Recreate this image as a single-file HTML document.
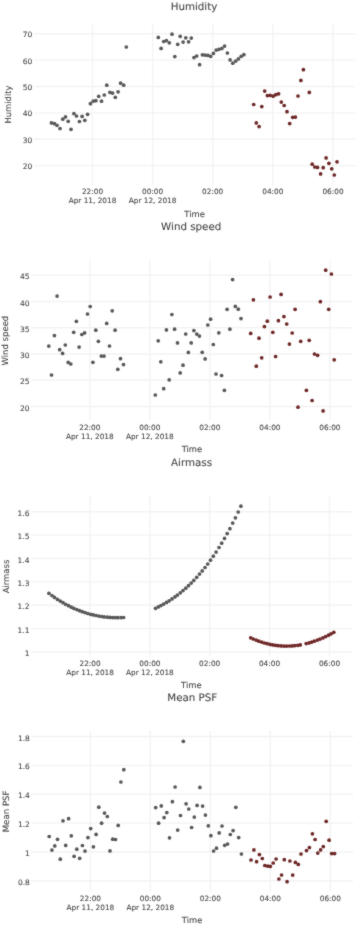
<!DOCTYPE html><html><head><meta charset="utf-8"><style>html,body{margin:0;padding:0;background:#fff;}svg{display:block;}text{font-family:'DejaVu Sans', sans-serif;fill:#444;text-rendering:geometricPrecision;stroke:#444;stroke-width:0.08px;}</style></head><body>
<svg width="357" height="925" viewBox="0 0 357 925">
<defs><filter id="soft" x="0" y="0" width="357" height="925" filterUnits="userSpaceOnUse" color-interpolation-filters="sRGB"><feConvolveMatrix order="3" kernelMatrix="1 2 1 2 20 2 1 2 1" divisor="32" edgeMode="duplicate"/></filter></defs>
<g filter="url(#soft)">
<rect width="357" height="925" fill="#fff"/>
<path d="M34.0 33.70H355.2M34.0 60.08H355.2M34.0 86.46H355.2M34.0 112.84H355.2M34.0 139.22H355.2M34.0 165.60H355.2M92.50 23.8V185.0M152.60 23.8V185.0M212.70 23.8V185.0M272.80 23.8V185.0M333.00 23.8V185.0" stroke="#f3f3f3" stroke-width="1.4" fill="none"/>
<g fill="#585858"><circle cx="51.4" cy="122.9" r="1.85"/><circle cx="54.4" cy="123.7" r="1.85"/><circle cx="57.0" cy="125.3" r="1.85"/><circle cx="60.0" cy="128.6" r="1.85"/><circle cx="62.8" cy="119.2" r="1.85"/><circle cx="65.5" cy="116.9" r="1.85"/><circle cx="68.2" cy="121.3" r="1.85"/><circle cx="71.0" cy="129.3" r="1.85"/><circle cx="73.9" cy="113.6" r="1.85"/><circle cx="76.5" cy="116.0" r="1.85"/><circle cx="79.4" cy="121.5" r="1.85"/><circle cx="82.1" cy="116.4" r="1.85"/><circle cx="84.8" cy="120.3" r="1.85"/><circle cx="87.6" cy="114.3" r="1.85"/><circle cx="90.4" cy="103.7" r="1.85"/><circle cx="93.2" cy="101.2" r="1.85"/><circle cx="95.9" cy="100.7" r="1.85"/><circle cx="98.7" cy="96.3" r="1.85"/><circle cx="101.5" cy="101.2" r="1.85"/><circle cx="104.3" cy="95.0" r="1.85"/><circle cx="106.8" cy="85.2" r="1.85"/><circle cx="109.9" cy="92.3" r="1.85"/><circle cx="112.6" cy="93.1" r="1.85"/><circle cx="115.3" cy="97.3" r="1.85"/><circle cx="118.1" cy="91.8" r="1.85"/><circle cx="120.6" cy="83.2" r="1.85"/><circle cx="123.7" cy="85.2" r="1.85"/><circle cx="126.3" cy="47.0" r="1.85"/><circle cx="158.3" cy="37.4" r="1.85"/><circle cx="161.1" cy="48.4" r="1.85"/><circle cx="163.7" cy="41.5" r="1.85"/><circle cx="166.4" cy="40.6" r="1.85"/><circle cx="169.3" cy="42.8" r="1.85"/><circle cx="172.0" cy="34.2" r="1.85"/><circle cx="174.8" cy="56.6" r="1.85"/><circle cx="177.7" cy="44.3" r="1.85"/><circle cx="180.2" cy="36.3" r="1.85"/><circle cx="183.1" cy="42.1" r="1.85"/><circle cx="185.8" cy="37.8" r="1.85"/><circle cx="188.6" cy="41.8" r="1.85"/><circle cx="191.3" cy="38.1" r="1.85"/><circle cx="194.0" cy="57.6" r="1.85"/><circle cx="196.7" cy="56.0" r="1.85"/><circle cx="199.6" cy="64.7" r="1.85"/><circle cx="202.4" cy="54.8" r="1.85"/><circle cx="205.1" cy="55.1" r="1.85"/><circle cx="207.9" cy="55.4" r="1.85"/><circle cx="210.6" cy="56.3" r="1.85"/><circle cx="213.4" cy="53.4" r="1.85"/><circle cx="216.2" cy="50.1" r="1.85"/><circle cx="219.0" cy="49.3" r="1.85"/><circle cx="221.9" cy="48.4" r="1.85"/><circle cx="224.6" cy="46.1" r="1.85"/><circle cx="227.4" cy="53.0" r="1.85"/><circle cx="230.1" cy="59.9" r="1.85"/><circle cx="232.8" cy="63.2" r="1.85"/><circle cx="235.7" cy="61.1" r="1.85"/><circle cx="238.4" cy="58.9" r="1.85"/><circle cx="241.2" cy="56.3" r="1.85"/><circle cx="243.9" cy="54.7" r="1.85"/></g>
<g fill="#6e2727"><circle cx="253.7" cy="104.5" r="1.85"/><circle cx="256.3" cy="122.9" r="1.85"/><circle cx="259.1" cy="126.6" r="1.85"/><circle cx="261.8" cy="106.6" r="1.85"/><circle cx="264.7" cy="91.1" r="1.85"/><circle cx="267.4" cy="95.6" r="1.85"/><circle cx="270.2" cy="95.3" r="1.85"/><circle cx="273.1" cy="96.2" r="1.85"/><circle cx="275.8" cy="94.7" r="1.85"/><circle cx="278.6" cy="93.8" r="1.85"/><circle cx="281.3" cy="102.1" r="1.85"/><circle cx="284.2" cy="105.5" r="1.85"/><circle cx="287.0" cy="111.7" r="1.85"/><circle cx="289.7" cy="123.6" r="1.85"/><circle cx="292.7" cy="117.3" r="1.85"/><circle cx="295.4" cy="117.1" r="1.85"/><circle cx="298.0" cy="96.0" r="1.85"/><circle cx="300.9" cy="80.4" r="1.85"/><circle cx="303.4" cy="69.7" r="1.85"/><circle cx="309.3" cy="92.4" r="1.85"/><circle cx="312.2" cy="164.2" r="1.85"/><circle cx="314.8" cy="167.0" r="1.85"/><circle cx="317.5" cy="167.4" r="1.85"/><circle cx="320.6" cy="173.9" r="1.85"/><circle cx="323.2" cy="167.7" r="1.85"/><circle cx="326.1" cy="157.9" r="1.85"/><circle cx="328.9" cy="163.3" r="1.85"/><circle cx="331.7" cy="168.8" r="1.85"/><circle cx="334.3" cy="175.0" r="1.85"/><circle cx="337.0" cy="161.8" r="1.85"/></g>
<text x="32.4" y="37.20" font-size="7.5" text-anchor="end">70</text>
<text x="32.4" y="63.58" font-size="7.5" text-anchor="end">60</text>
<text x="32.4" y="89.96" font-size="7.5" text-anchor="end">50</text>
<text x="32.4" y="116.34" font-size="7.5" text-anchor="end">40</text>
<text x="32.4" y="142.72" font-size="7.5" text-anchor="end">30</text>
<text x="32.4" y="169.10" font-size="7.5" text-anchor="end">20</text>
<text x="92.50" y="194.10" font-size="7.35" text-anchor="middle">22:00</text>
<text x="92.50" y="203.20" font-size="7.35" text-anchor="middle">Apr 11, 2018</text>
<text x="152.60" y="194.10" font-size="7.35" text-anchor="middle">00:00</text>
<text x="152.60" y="203.20" font-size="7.35" text-anchor="middle">Apr 12, 2018</text>
<text x="212.70" y="194.10" font-size="7.35" text-anchor="middle">02:00</text>
<text x="272.80" y="194.10" font-size="7.35" text-anchor="middle">04:00</text>
<text x="333.00" y="194.10" font-size="7.35" text-anchor="middle">06:00</text>
<text x="194.60" y="216.50" font-size="8.4" text-anchor="middle">Time</text>
<text transform="translate(10.80,104.50) rotate(-90)" font-size="8.4" text-anchor="middle">Humidity</text>
<text x="194.00" y="9.50" font-size="10.3" text-anchor="middle">Humidity</text>
<path d="M31.1 275.20H352.7M31.1 301.45H352.7M31.1 327.70H352.7M31.1 353.95H352.7M31.1 380.20H352.7M31.1 406.45H352.7M89.80 260.3V420.6M149.80 260.3V420.6M209.80 260.3V420.6M269.90 260.3V420.6M329.90 260.3V420.6" stroke="#f3f3f3" stroke-width="1.4" fill="none"/>
<g fill="#585858"><circle cx="48.8" cy="346.1" r="1.85"/><circle cx="51.5" cy="375.0" r="1.85"/><circle cx="54.4" cy="335.6" r="1.85"/><circle cx="57.1" cy="296.1" r="1.85"/><circle cx="59.7" cy="349.7" r="1.85"/><circle cx="62.6" cy="353.4" r="1.85"/><circle cx="65.3" cy="345.0" r="1.85"/><circle cx="68.2" cy="362.4" r="1.85"/><circle cx="70.8" cy="364.0" r="1.85"/><circle cx="73.7" cy="332.3" r="1.85"/><circle cx="76.4" cy="321.3" r="1.85"/><circle cx="79.1" cy="347.1" r="1.85"/><circle cx="81.8" cy="334.5" r="1.85"/><circle cx="84.6" cy="332.9" r="1.85"/><circle cx="87.5" cy="314.0" r="1.85"/><circle cx="90.2" cy="306.5" r="1.85"/><circle cx="92.9" cy="362.3" r="1.85"/><circle cx="95.8" cy="330.2" r="1.85"/><circle cx="98.4" cy="341.3" r="1.85"/><circle cx="101.3" cy="356.1" r="1.85"/><circle cx="104.0" cy="356.1" r="1.85"/><circle cx="106.7" cy="323.4" r="1.85"/><circle cx="109.5" cy="346.0" r="1.85"/><circle cx="112.2" cy="310.8" r="1.85"/><circle cx="115.1" cy="330.2" r="1.85"/><circle cx="117.8" cy="369.3" r="1.85"/><circle cx="120.5" cy="358.7" r="1.85"/><circle cx="123.5" cy="364.6" r="1.85"/><circle cx="155.3" cy="395.0" r="1.85"/><circle cx="158.2" cy="340.8" r="1.85"/><circle cx="160.8" cy="361.8" r="1.85"/><circle cx="163.7" cy="388.7" r="1.85"/><circle cx="166.4" cy="329.9" r="1.85"/><circle cx="169.2" cy="379.8" r="1.85"/><circle cx="171.9" cy="314.5" r="1.85"/><circle cx="174.6" cy="329.2" r="1.85"/><circle cx="177.5" cy="342.9" r="1.85"/><circle cx="180.2" cy="372.9" r="1.85"/><circle cx="183.0" cy="365.2" r="1.85"/><circle cx="185.7" cy="334.0" r="1.85"/><circle cx="188.4" cy="352.4" r="1.85"/><circle cx="191.2" cy="342.9" r="1.85"/><circle cx="193.9" cy="330.6" r="1.85"/><circle cx="196.8" cy="334.1" r="1.85"/><circle cx="199.4" cy="336.1" r="1.85"/><circle cx="202.2" cy="352.3" r="1.85"/><circle cx="205.1" cy="358.9" r="1.85"/><circle cx="207.8" cy="325.0" r="1.85"/><circle cx="210.6" cy="319.2" r="1.85"/><circle cx="213.3" cy="344.5" r="1.85"/><circle cx="216.0" cy="374.0" r="1.85"/><circle cx="218.8" cy="332.8" r="1.85"/><circle cx="221.6" cy="375.5" r="1.85"/><circle cx="224.4" cy="390.3" r="1.85"/><circle cx="227.1" cy="309.3" r="1.85"/><circle cx="229.9" cy="329.2" r="1.85"/><circle cx="232.6" cy="279.6" r="1.85"/><circle cx="235.3" cy="306.4" r="1.85"/><circle cx="238.3" cy="309.2" r="1.85"/><circle cx="241.0" cy="318.6" r="1.85"/></g>
<g fill="#6e2727"><circle cx="250.7" cy="333.4" r="1.85"/><circle cx="253.4" cy="299.8" r="1.85"/><circle cx="256.3" cy="366.2" r="1.85"/><circle cx="259.0" cy="338.2" r="1.85"/><circle cx="261.7" cy="357.8" r="1.85"/><circle cx="264.4" cy="326.6" r="1.85"/><circle cx="267.3" cy="321.2" r="1.85"/><circle cx="270.1" cy="297.0" r="1.85"/><circle cx="272.8" cy="332.3" r="1.85"/><circle cx="275.6" cy="356.5" r="1.85"/><circle cx="278.4" cy="320.7" r="1.85"/><circle cx="281.1" cy="294.4" r="1.85"/><circle cx="283.9" cy="316.6" r="1.85"/><circle cx="286.7" cy="324.0" r="1.85"/><circle cx="289.4" cy="344.1" r="1.85"/><circle cx="292.2" cy="333.0" r="1.85"/><circle cx="295.1" cy="309.3" r="1.85"/><circle cx="298.0" cy="407.2" r="1.85"/><circle cx="300.7" cy="341.3" r="1.85"/><circle cx="306.4" cy="390.3" r="1.85"/><circle cx="309.2" cy="340.3" r="1.85"/><circle cx="312.1" cy="400.5" r="1.85"/><circle cx="314.5" cy="354.0" r="1.85"/><circle cx="317.6" cy="355.3" r="1.85"/><circle cx="320.4" cy="301.7" r="1.85"/><circle cx="323.1" cy="410.9" r="1.85"/><circle cx="325.7" cy="270.2" r="1.85"/><circle cx="328.7" cy="309.3" r="1.85"/><circle cx="331.4" cy="274.0" r="1.85"/><circle cx="334.2" cy="359.8" r="1.85"/></g>
<text x="29.5" y="279.40" font-size="7.5" text-anchor="end">45</text>
<text x="29.5" y="305.65" font-size="7.5" text-anchor="end">40</text>
<text x="29.5" y="331.90" font-size="7.5" text-anchor="end">35</text>
<text x="29.5" y="358.15" font-size="7.5" text-anchor="end">30</text>
<text x="29.5" y="384.40" font-size="7.5" text-anchor="end">25</text>
<text x="29.5" y="410.65" font-size="7.5" text-anchor="end">20</text>
<text x="89.80" y="429.70" font-size="7.35" text-anchor="middle">22:00</text>
<text x="89.80" y="438.80" font-size="7.35" text-anchor="middle">Apr 11, 2018</text>
<text x="149.80" y="429.70" font-size="7.35" text-anchor="middle">00:00</text>
<text x="149.80" y="438.80" font-size="7.35" text-anchor="middle">Apr 12, 2018</text>
<text x="209.80" y="429.70" font-size="7.35" text-anchor="middle">02:00</text>
<text x="269.90" y="429.70" font-size="7.35" text-anchor="middle">04:00</text>
<text x="329.90" y="429.70" font-size="7.35" text-anchor="middle">06:00</text>
<text x="191.90" y="452.10" font-size="8.4" text-anchor="middle">Time</text>
<text transform="translate(8.30,340.60) rotate(-90)" font-size="8.5" text-anchor="middle">Wind speed</text>
<text x="191.20" y="230.10" font-size="10.3" text-anchor="middle">Wind speed</text>
<path d="M30.8 511.80H351.9M30.8 535.17H351.9M30.8 558.54H351.9M30.8 581.91H351.9M30.8 605.28H351.9M30.8 628.65H351.9M30.8 652.02H351.9M90.10 496.0V656.6M149.90 496.0V656.6M209.70 496.0V656.6M269.50 496.0V656.6M329.50 496.0V656.6" stroke="#f3f3f3" stroke-width="1.4" fill="none"/>
<g fill="#585858"><circle cx="48.9" cy="593.3" r="1.85"/><circle cx="51.9" cy="595.5" r="1.85"/><circle cx="54.5" cy="597.4" r="1.85"/><circle cx="57.5" cy="599.4" r="1.85"/><circle cx="60.3" cy="601.1" r="1.85"/><circle cx="63.0" cy="602.7" r="1.85"/><circle cx="65.7" cy="604.3" r="1.85"/><circle cx="68.5" cy="605.7" r="1.85"/><circle cx="71.3" cy="607.2" r="1.85"/><circle cx="73.9" cy="608.4" r="1.85"/><circle cx="76.8" cy="609.6" r="1.85"/><circle cx="79.5" cy="610.7" r="1.85"/><circle cx="82.2" cy="611.7" r="1.85"/><circle cx="85.0" cy="612.6" r="1.85"/><circle cx="87.8" cy="613.5" r="1.85"/><circle cx="90.6" cy="614.3" r="1.85"/><circle cx="93.3" cy="614.9" r="1.85"/><circle cx="96.1" cy="615.5" r="1.85"/><circle cx="98.9" cy="616.1" r="1.85"/><circle cx="101.7" cy="616.5" r="1.85"/><circle cx="104.2" cy="616.9" r="1.85"/><circle cx="107.3" cy="617.2" r="1.85"/><circle cx="109.9" cy="617.4" r="1.85"/><circle cx="112.6" cy="617.6" r="1.85"/><circle cx="115.4" cy="617.6" r="1.85"/><circle cx="117.9" cy="617.7" r="1.85"/><circle cx="121.0" cy="617.6" r="1.85"/><circle cx="123.6" cy="617.5" r="1.85"/><circle cx="155.5" cy="608.3" r="1.85"/><circle cx="158.3" cy="606.9" r="1.85"/><circle cx="160.9" cy="605.6" r="1.85"/><circle cx="163.6" cy="604.1" r="1.85"/><circle cx="166.5" cy="602.4" r="1.85"/><circle cx="169.2" cy="600.8" r="1.85"/><circle cx="172.0" cy="598.9" r="1.85"/><circle cx="174.9" cy="596.9" r="1.85"/><circle cx="177.4" cy="595.1" r="1.85"/><circle cx="180.3" cy="592.8" r="1.85"/><circle cx="183.0" cy="590.6" r="1.85"/><circle cx="185.8" cy="588.2" r="1.85"/><circle cx="188.5" cy="585.7" r="1.85"/><circle cx="191.2" cy="583.1" r="1.85"/><circle cx="193.8" cy="580.4" r="1.85"/><circle cx="196.7" cy="577.3" r="1.85"/><circle cx="199.5" cy="574.1" r="1.85"/><circle cx="202.2" cy="570.9" r="1.85"/><circle cx="205.0" cy="567.5" r="1.85"/><circle cx="207.7" cy="564.0" r="1.85"/><circle cx="210.5" cy="560.2" r="1.85"/><circle cx="213.3" cy="556.2" r="1.85"/><circle cx="216.1" cy="552.1" r="1.85"/><circle cx="219.0" cy="547.5" r="1.85"/><circle cx="221.7" cy="543.2" r="1.85"/><circle cx="224.5" cy="538.4" r="1.85"/><circle cx="227.2" cy="533.6" r="1.85"/><circle cx="229.9" cy="528.7" r="1.85"/><circle cx="232.7" cy="523.1" r="1.85"/><circle cx="235.4" cy="517.8" r="1.85"/><circle cx="238.2" cy="512.0" r="1.85"/><circle cx="240.9" cy="506.2" r="1.85"/></g>
<g fill="#6e2727"><circle cx="250.7" cy="637.8" r="1.85"/><circle cx="253.3" cy="639.0" r="1.85"/><circle cx="256.1" cy="640.1" r="1.85"/><circle cx="258.8" cy="641.2" r="1.85"/><circle cx="261.7" cy="642.1" r="1.85"/><circle cx="264.4" cy="643.0" r="1.85"/><circle cx="267.2" cy="643.7" r="1.85"/><circle cx="270.1" cy="644.4" r="1.85"/><circle cx="272.8" cy="644.9" r="1.85"/><circle cx="275.5" cy="645.3" r="1.85"/><circle cx="278.2" cy="645.7" r="1.85"/><circle cx="281.1" cy="645.9" r="1.85"/><circle cx="283.9" cy="646.1" r="1.85"/><circle cx="286.6" cy="646.1" r="1.85"/><circle cx="289.6" cy="646.0" r="1.85"/><circle cx="292.3" cy="645.9" r="1.85"/><circle cx="294.9" cy="645.6" r="1.85"/><circle cx="297.8" cy="645.3" r="1.85"/><circle cx="300.3" cy="644.9" r="1.85"/><circle cx="306.2" cy="643.6" r="1.85"/><circle cx="309.1" cy="642.9" r="1.85"/><circle cx="311.7" cy="642.1" r="1.85"/><circle cx="314.3" cy="641.2" r="1.85"/><circle cx="317.4" cy="640.1" r="1.85"/><circle cx="320.0" cy="639.1" r="1.85"/><circle cx="322.9" cy="637.9" r="1.85"/><circle cx="325.7" cy="636.6" r="1.85"/><circle cx="328.5" cy="635.2" r="1.85"/><circle cx="331.1" cy="633.8" r="1.85"/><circle cx="333.8" cy="632.3" r="1.85"/></g>
<text x="29.5" y="515.80" font-size="7.5" text-anchor="end">1.6</text>
<text x="29.5" y="539.17" font-size="7.5" text-anchor="end">1.5</text>
<text x="29.5" y="562.54" font-size="7.5" text-anchor="end">1.4</text>
<text x="29.5" y="585.91" font-size="7.5" text-anchor="end">1.3</text>
<text x="29.5" y="609.28" font-size="7.5" text-anchor="end">1.2</text>
<text x="29.5" y="632.65" font-size="7.5" text-anchor="end">1.1</text>
<text x="29.5" y="656.02" font-size="7.5" text-anchor="end">1</text>
<text x="90.10" y="665.70" font-size="7.35" text-anchor="middle">22:00</text>
<text x="90.10" y="674.80" font-size="7.35" text-anchor="middle">Apr 11, 2018</text>
<text x="149.90" y="665.70" font-size="7.35" text-anchor="middle">00:00</text>
<text x="149.90" y="674.80" font-size="7.35" text-anchor="middle">Apr 12, 2018</text>
<text x="209.70" y="665.70" font-size="7.35" text-anchor="middle">02:00</text>
<text x="269.50" y="665.70" font-size="7.35" text-anchor="middle">04:00</text>
<text x="329.50" y="665.70" font-size="7.35" text-anchor="middle">06:00</text>
<text x="191.35" y="688.10" font-size="8.4" text-anchor="middle">Time</text>
<text transform="translate(8.50,576.50) rotate(-90)" font-size="8.45" text-anchor="middle">Airmass</text>
<text x="191.50" y="465.90" font-size="10.3" text-anchor="middle">Airmass</text>
<path d="M31.2 736.50H353.0M31.2 765.36H353.0M31.2 794.22H353.0M31.2 823.08H353.0M31.2 851.94H353.0M31.2 880.80H353.0M90.40 731.0V891.5M150.30 731.0V891.5M210.30 731.0V891.5M270.30 731.0V891.5M330.30 731.0V891.5" stroke="#f3f3f3" stroke-width="1.4" fill="none"/>
<g fill="#585858"><circle cx="49.2" cy="836.5" r="1.85"/><circle cx="51.9" cy="850.1" r="1.85"/><circle cx="54.8" cy="845.9" r="1.85"/><circle cx="57.5" cy="839.3" r="1.85"/><circle cx="60.3" cy="859.2" r="1.85"/><circle cx="63.0" cy="820.8" r="1.85"/><circle cx="65.7" cy="845.4" r="1.85"/><circle cx="68.6" cy="818.7" r="1.85"/><circle cx="71.3" cy="835.8" r="1.85"/><circle cx="74.1" cy="856.3" r="1.85"/><circle cx="76.8" cy="849.2" r="1.85"/><circle cx="79.7" cy="858.3" r="1.85"/><circle cx="82.4" cy="845.5" r="1.85"/><circle cx="85.0" cy="851.1" r="1.85"/><circle cx="87.9" cy="837.6" r="1.85"/><circle cx="90.7" cy="828.6" r="1.85"/><circle cx="93.4" cy="846.8" r="1.85"/><circle cx="96.1" cy="834.4" r="1.85"/><circle cx="98.8" cy="807.2" r="1.85"/><circle cx="101.6" cy="823.2" r="1.85"/><circle cx="104.5" cy="813.1" r="1.85"/><circle cx="107.3" cy="816.5" r="1.85"/><circle cx="110.0" cy="850.9" r="1.85"/><circle cx="112.7" cy="839.2" r="1.85"/><circle cx="115.5" cy="839.5" r="1.85"/><circle cx="118.2" cy="825.4" r="1.85"/><circle cx="120.9" cy="782.0" r="1.85"/><circle cx="123.8" cy="769.7" r="1.85"/><circle cx="155.7" cy="807.6" r="1.85"/><circle cx="158.6" cy="823.2" r="1.85"/><circle cx="161.3" cy="805.9" r="1.85"/><circle cx="164.1" cy="817.6" r="1.85"/><circle cx="166.8" cy="812.6" r="1.85"/><circle cx="169.5" cy="837.8" r="1.85"/><circle cx="172.4" cy="801.7" r="1.85"/><circle cx="175.1" cy="787.0" r="1.85"/><circle cx="177.7" cy="830.1" r="1.85"/><circle cx="180.5" cy="815.5" r="1.85"/><circle cx="183.3" cy="741.3" r="1.85"/><circle cx="186.1" cy="803.8" r="1.85"/><circle cx="188.8" cy="809.0" r="1.85"/><circle cx="191.6" cy="827.5" r="1.85"/><circle cx="194.3" cy="817.1" r="1.85"/><circle cx="197.1" cy="805.4" r="1.85"/><circle cx="199.9" cy="787.4" r="1.85"/><circle cx="202.6" cy="806.1" r="1.85"/><circle cx="205.4" cy="815.1" r="1.85"/><circle cx="208.3" cy="825.8" r="1.85"/><circle cx="210.9" cy="835.7" r="1.85"/><circle cx="213.6" cy="851.0" r="1.85"/><circle cx="216.5" cy="848.2" r="1.85"/><circle cx="219.2" cy="832.9" r="1.85"/><circle cx="222.0" cy="826.0" r="1.85"/><circle cx="224.7" cy="845.3" r="1.85"/><circle cx="227.6" cy="844.0" r="1.85"/><circle cx="230.3" cy="834.5" r="1.85"/><circle cx="233.1" cy="830.6" r="1.85"/><circle cx="235.8" cy="807.3" r="1.85"/><circle cx="238.7" cy="837.6" r="1.85"/><circle cx="241.4" cy="854.0" r="1.85"/></g>
<g fill="#6e2727"><circle cx="251.0" cy="860.0" r="1.85"/><circle cx="253.9" cy="849.9" r="1.85"/><circle cx="256.6" cy="861.7" r="1.85"/><circle cx="259.4" cy="854.6" r="1.85"/><circle cx="262.3" cy="858.5" r="1.85"/><circle cx="264.8" cy="865.5" r="1.85"/><circle cx="267.6" cy="866.1" r="1.85"/><circle cx="270.3" cy="866.4" r="1.85"/><circle cx="273.2" cy="863.0" r="1.85"/><circle cx="276.1" cy="859.0" r="1.85"/><circle cx="278.9" cy="879.0" r="1.85"/><circle cx="281.6" cy="875.0" r="1.85"/><circle cx="284.3" cy="859.7" r="1.85"/><circle cx="287.1" cy="881.7" r="1.85"/><circle cx="289.9" cy="861.0" r="1.85"/><circle cx="292.7" cy="875.1" r="1.85"/><circle cx="295.4" cy="862.4" r="1.85"/><circle cx="298.3" cy="864.4" r="1.85"/><circle cx="301.0" cy="854.0" r="1.85"/><circle cx="306.5" cy="850.6" r="1.85"/><circle cx="309.4" cy="847.6" r="1.85"/><circle cx="312.4" cy="833.8" r="1.85"/><circle cx="315.1" cy="839.5" r="1.85"/><circle cx="317.8" cy="853.1" r="1.85"/><circle cx="320.6" cy="849.9" r="1.85"/><circle cx="323.3" cy="846.6" r="1.85"/><circle cx="326.2" cy="821.3" r="1.85"/><circle cx="329.1" cy="840.2" r="1.85"/><circle cx="331.7" cy="853.6" r="1.85"/><circle cx="334.6" cy="853.6" r="1.85"/></g>
<text x="29.9" y="740.50" font-size="7.5" text-anchor="end">1.8</text>
<text x="29.9" y="769.36" font-size="7.5" text-anchor="end">1.6</text>
<text x="29.9" y="798.22" font-size="7.5" text-anchor="end">1.4</text>
<text x="29.9" y="827.08" font-size="7.5" text-anchor="end">1.2</text>
<text x="29.9" y="855.94" font-size="7.5" text-anchor="end">1</text>
<text x="29.9" y="884.80" font-size="7.5" text-anchor="end">0.8</text>
<text x="90.40" y="900.60" font-size="7.35" text-anchor="middle">22:00</text>
<text x="90.40" y="909.70" font-size="7.35" text-anchor="middle">Apr 11, 2018</text>
<text x="150.30" y="900.60" font-size="7.35" text-anchor="middle">00:00</text>
<text x="150.30" y="909.70" font-size="7.35" text-anchor="middle">Apr 12, 2018</text>
<text x="210.30" y="900.60" font-size="7.35" text-anchor="middle">02:00</text>
<text x="270.30" y="900.60" font-size="7.35" text-anchor="middle">04:00</text>
<text x="330.30" y="900.60" font-size="7.35" text-anchor="middle">06:00</text>
<text x="192.10" y="923.00" font-size="8.4" text-anchor="middle">Time</text>
<text transform="translate(8.60,811.40) rotate(-90)" font-size="8.65" text-anchor="middle">Mean PSF</text>
<text x="192.30" y="700.90" font-size="10.3" text-anchor="middle">Mean PSF</text>
</g></svg></body></html>
